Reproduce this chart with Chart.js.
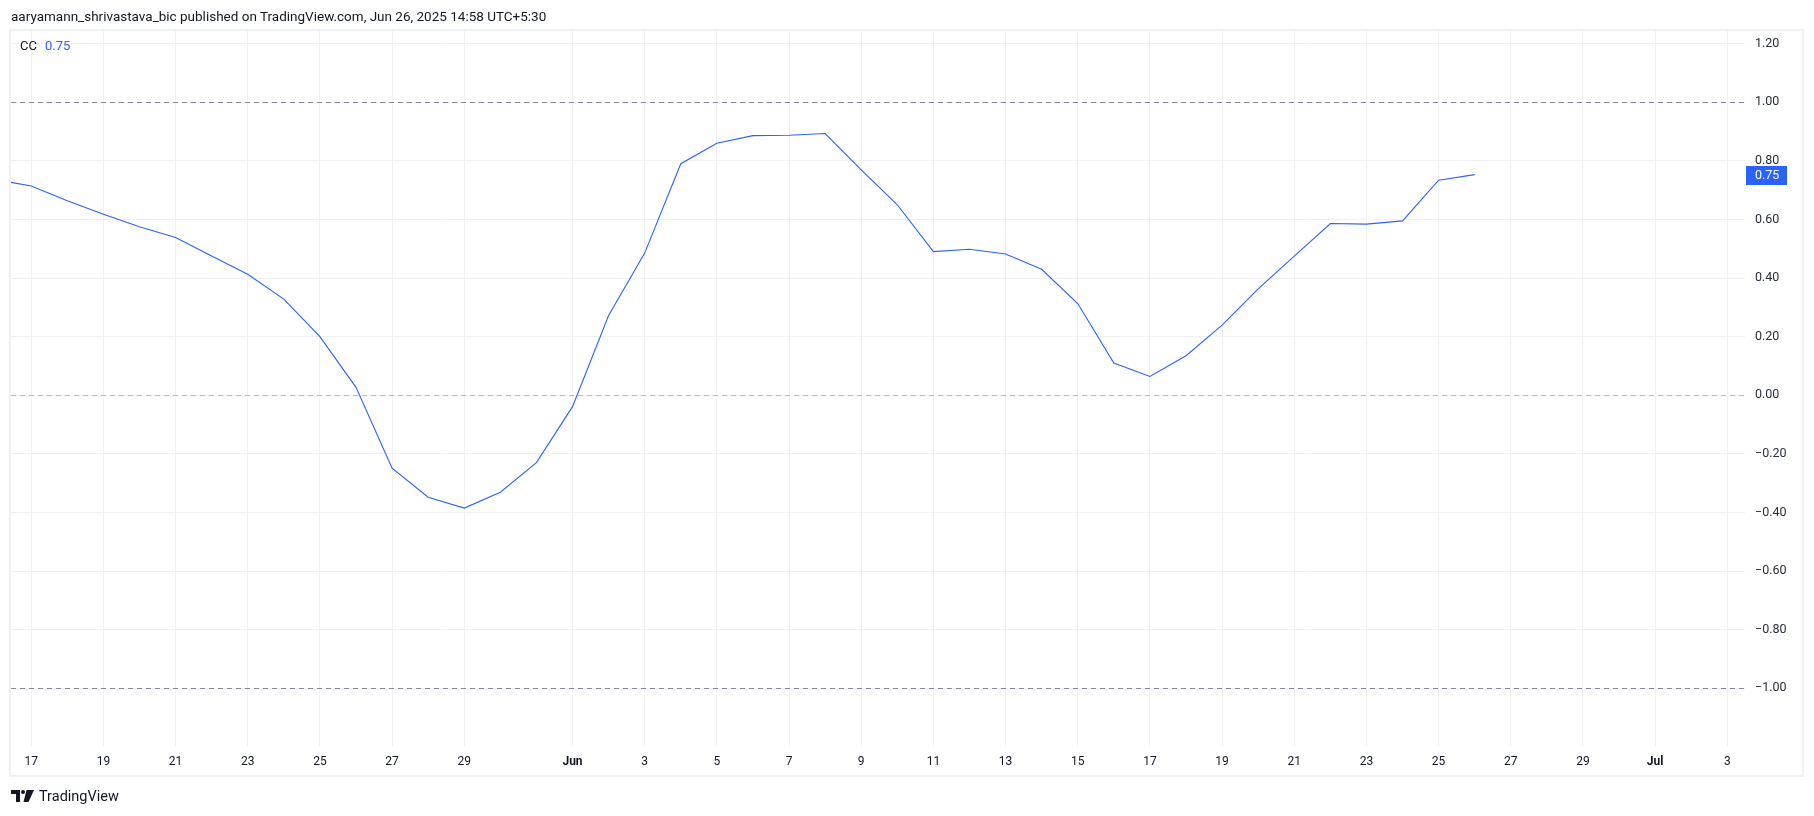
<!DOCTYPE html>
<html>
<head>
<meta charset="utf-8">
<script src="https://cdn.jsdelivr.net/npm/chart.js@4"></script>
<style>
  html, body { margin: 0; padding: 0; background: #fff; }
  body { width: 1814px; height: 816px; position: relative; overflow: hidden; font-family: Roboto, "Noto Sans", sans-serif; color: #131722; }
  #panel { position: absolute; left: 9px; top: 29px; width: 1791px; height: 744px; border: 2px solid #f0f1f4; }
  #chart { position: absolute; left: 0; top: 0; }
  #header { position: absolute; left: 11px; top: 8px; font-size: 13.5px; white-space: nowrap; }
  #legend { position: absolute; left: 20px; top: 38px; font-size: 13px; white-space: nowrap; }
  #legend .val { color: #2962ff; margin-left: 8px; }
  #logo { position: absolute; left: 11px; top: 787px; height: 18px; display: flex; align-items: center; font-size: 14.5px; }
  #logo svg { margin-right: 5px; }
</style>
</head>
<body>
<div id="panel"></div>
<canvas id="chart" width="1814" height="816"></canvas>
<div id="header">aaryamann_shrivastava_bic published on TradingView.com, Jun 26, 2025 14:58 UTC+5:30</div>
<div id="legend">CC<span class="val">0.75</span></div>
<div id="logo">
  <svg width="23" height="12" viewBox="0 0 23 12">
    <path d="M0 0 H9 V12 H5 V4 H0 Z" fill="#131722"/>
    <circle cx="12" cy="2" r="2" fill="#131722"/>
    <path d="M15.5 0 H23 L17.5 12 H12.5 Z" fill="#131722"/>
  </svg>
  <span>TradingView</span>
</div>
<script>
// days counted from May 17 (day 0); May 16 is day -1
const dayOffsets = [-1, 0, 1, 2, 3, 4, 5, 6, 7, 8, 9, 10, 11, 12, 13, 14,
                    15, 16, 17, 18, 19, 20, 21, 22, 23, 24, 25, 26, 27, 28, 29, 30,
                    31, 32, 33, 34, 35, 36, 37, 38, 39, 40];

const ccValues = [0.736, 0.714, 0.664, 0.618, 0.575, 0.538, 0.475, 0.413, 0.328, 0.200, 0.027, -0.249, -0.348, -0.385, -0.331, -0.230,
                  -0.039, 0.272, 0.485, 0.790, 0.860, 0.886, 0.887, 0.893, 0.769, 0.650, 0.490, 0.498, 0.482, 0.430, 0.313, 0.110,
                  0.064, 0.135, 0.239, 0.363, 0.475, 0.586, 0.584, 0.595, 0.734, 0.753];

const xTickDays = [0, 2, 4, 6, 8, 10, 12, 15, 17, 19, 21, 23, 25, 27, 29, 31, 33, 35, 37, 39, 41, 43, 45, 47];
const xTickLabels = ['17', '19', '21', '23', '25', '27', '29', 'Jun', '3', '5', '7', '9', '11', '13', '15',
                     '17', '19', '21', '23', '25', '27', '29', 'Jul', '3'];
const monthLabels = ['Jun', 'Jul'];

const yTickValues = [-1.0, -0.8, -0.6, -0.4, -0.2, 0.0, 0.2, 0.4, 0.6, 0.8, 1.0, 1.2];

const hLineLevels = [1.0, 0.0, -1.0];
const hLineColors = ['#868993', '#b8bbc2', '#868993'];

const lineColor = '#2962ff';

// dashed levels under the line, last value badge on the price scale
const overlayPlugin = {
  id: 'overlay',
  beforeDatasetsDraw(chart) {
    const { ctx, chartArea, scales } = chart;
    ctx.save();
    ctx.lineWidth = 1;
    ctx.setLineDash([5, 4]);
    hLineLevels.forEach((lv, i) => {
      const y = Math.round(scales.y.getPixelForValue(lv)) + 0.5;
      ctx.strokeStyle = hLineColors[i];
      ctx.beginPath();
      ctx.moveTo(chartArea.left, y);
      ctx.lineTo(chartArea.right, y);
      ctx.stroke();
    });
    ctx.restore();
  },
  afterDraw(chart) {
    const { ctx, chartArea, scales } = chart;
    const last = ccValues[ccValues.length - 1];
    const y = Math.round(scales.y.getPixelForValue(last));
    ctx.save();
    ctx.fillStyle = lineColor;
    ctx.fillRect(chartArea.right + 1, y - 9, 41, 19);
    ctx.fillStyle = '#ffffff';
    ctx.font = '12.5px Roboto, "Noto Sans", sans-serif';
    ctx.textBaseline = 'middle';
    ctx.textAlign = 'left';
    ctx.fillText(last.toFixed(2), chartArea.right + 10, y + 1);
    ctx.restore();
  }
};

const ctx = document.getElementById('chart').getContext('2d');

new Chart(ctx, {
  type: 'line',
  data: {
    datasets: [{
      label: 'CC',
      data: dayOffsets.map((d, i) => ({ x: d, y: ccValues[i] })),
      borderColor: lineColor,
      borderWidth: 1.1,
      pointRadius: 0,
      tension: 0,
      fill: false
    }]
  },
  options: {
    responsive: false,
    animation: false,
    devicePixelRatio: 1,
    layout: { padding: { left: 11, top: 31, right: 11, bottom: 40 } },
    plugins: { legend: { display: false }, tooltip: { enabled: false } },
    scales: {
      x: {
        type: 'linear',
        min: -0.56,
        max: 47.49,
        afterBuildTicks: (scale) => { scale.ticks = xTickDays.map(v => ({ value: v })); },
        afterFit: (scale) => { scale.height = 30; },
        grid: { color: '#f0f1f4', drawTicks: false },
        border: { display: false },
        ticks: {
          autoSkip: false,
          maxRotation: 0,
          padding: 9,
          color: '#131722',
          font: (c) => ({
            family: 'Roboto, "Noto Sans", sans-serif',
            size: 12,
            weight: (c.tick && monthLabels.includes(xTickLabels[c.index])) ? 'bold' : 'normal'
          }),
          callback: (value, index) => xTickLabels[index]
        }
      },
      y: {
        position: 'right',
        min: -1.197,
        max: 1.243,
        afterBuildTicks: (scale) => { scale.ticks = yTickValues.map(v => ({ value: v })); },
        afterFit: (scale) => { scale.width = 58; },
        grid: { color: '#f0f1f4', drawTicks: false },
        border: { display: false },
        ticks: {
          padding: 10,
          color: '#2a2e39',
          font: { family: 'Roboto, "Noto Sans", sans-serif', size: 12.5 },
          callback: (value) => (value < 0 ? '\u2212' : '') + Math.abs(value).toFixed(2)
        }
      }
    }
  },
  plugins: [overlayPlugin]
});
</script>
</body>
</html>
